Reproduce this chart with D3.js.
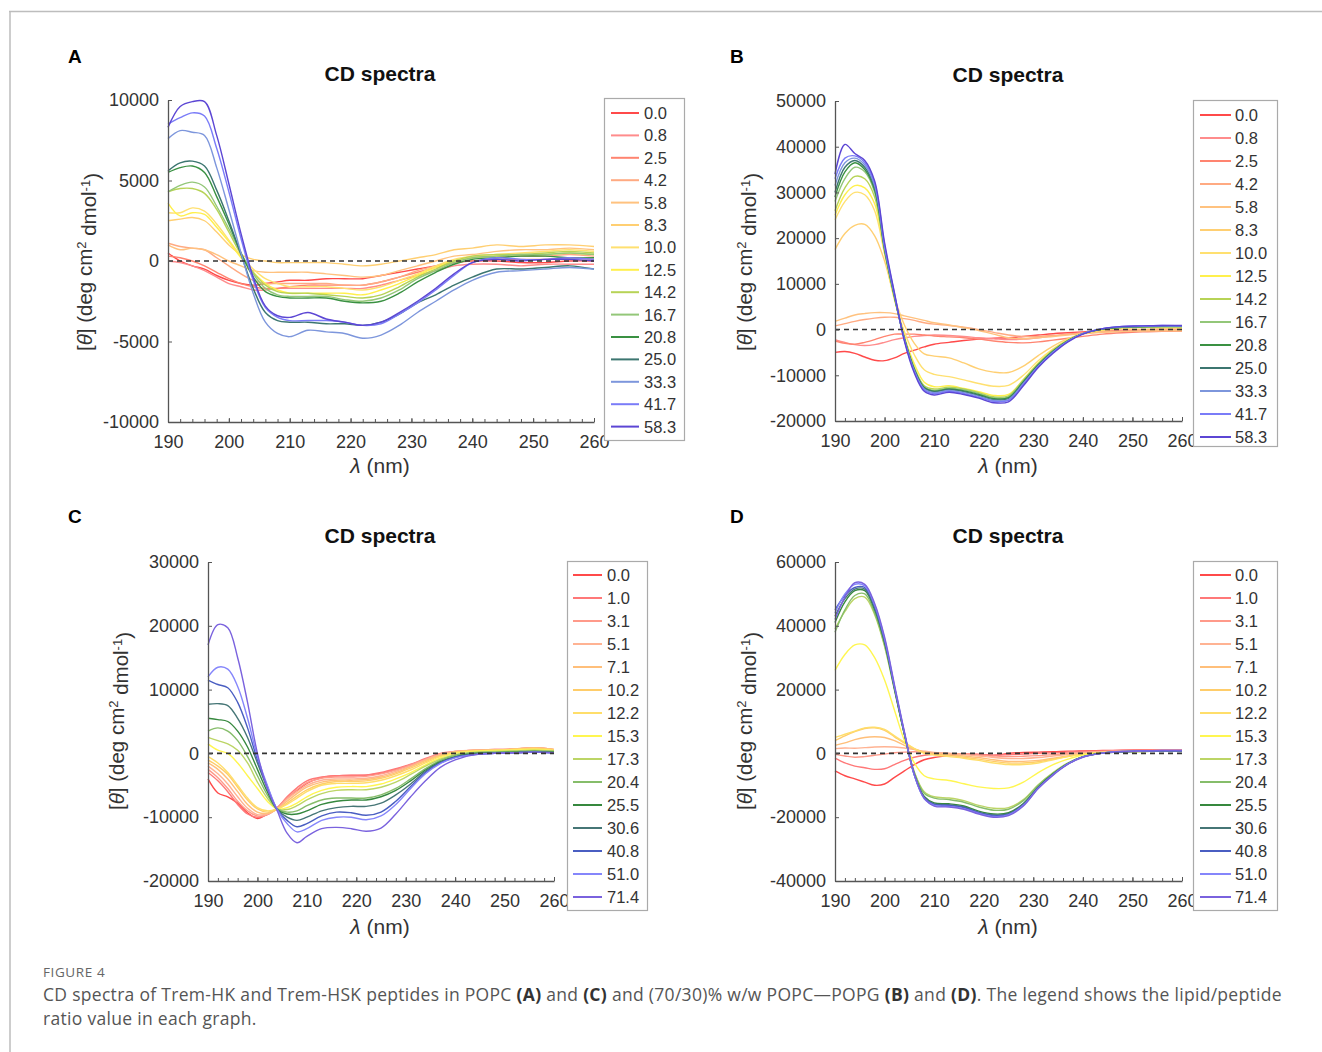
<!DOCTYPE html>
<html>
<head>
<meta charset="utf-8">
<script src="https://cdn.jsdelivr.net/npm/d3@7"></script>
<style>
  body { margin: 0; background: #fff; }
  svg { display: block; }
</style>
</head>
<body>
<svg id="fig" width="1322" height="1052"></svg>
<script>
// Wavelength grid (nm) shared by every spectrum
const wavelengths = [190,192,194,196,198,200,202,204,206,208,210,213,216,219,222,225,228,231,234,237,240,244,248,252,256,260];

// Lipid/peptide ratios shown in each legend
const ratiosAB = ["0.0","0.8","2.5","4.2","5.8","8.3","10.0","12.5","14.2","16.7","20.8","25.0","33.3","41.7","58.3"];
const ratiosCD = ["0.0","1.0","3.1","5.1","7.1","10.2","12.2","15.3","17.3","20.4","25.5","30.6","40.8","51.0","71.4"];

// Tick values
const xTicks = [190,200,210,220,230,240,250,260];
const xMinorTicks = d3.range(190, 261, 2);
const yTicksA = [-10000,-5000,0,5000,10000];
const yTicksB = [-20000,-10000,0,10000,20000,30000,40000,50000];
const yTicksC = [-20000,-10000,0,10000,20000,30000];
const yTicksD = [-40000,-20000,0,20000,40000,60000];

// Panel A: Trem-HK in POPC, mean residue ellipticity, one row per ratio
const thetaA = [
  [500,0,-300,-500,-900,-1200,-1400,-1500,-1400,-1300,-1200,-1200,-1100,-1100,-1100,-900,-700,-500,-300,-100,0,0,-100,-100,0,0],
  [0,-100,-300,-600,-1000,-1400,-1600,-1800,-1800,-1700,-1700,-1700,-1700,-1700,-1700,-1500,-1200,-900,-600,-300,-200,-200,-300,-200,-200,-200],
  [300,200,0,-300,-700,-1100,-1400,-1600,-1700,-1700,-1600,-1500,-1500,-1500,-1500,-1300,-1000,-700,-400,-100,0,100,100,100,200,100],
  [1100,900,800,700,200,-300,-800,-1200,-1400,-1400,-1400,-1400,-1400,-1500,-1500,-1300,-1000,-600,-300,0,200,300,300,300,400,300],
  [1000,700,800,700,400,0,-300,-600,-700,-700,-700,-700,-800,-900,-1000,-900,-600,-300,0,300,400,600,700,700,800,700],
  [2500,2600,2700,2500,1800,1000,400,100,0,-100,-100,-100,-100,-200,-300,-200,0,200,400,700,800,1000,900,1000,1000,900],
  [3000,3000,3300,3100,2300,1300,300,-500,-1100,-1400,-1600,-1600,-1600,-1700,-1800,-1600,-1200,-800,-300,100,300,400,500,600,700,600],
  [3600,2800,3000,2900,2100,1200,200,-700,-1400,-1800,-2000,-2000,-2000,-2000,-2100,-1800,-1400,-900,-400,0,200,300,400,400,500,400],
  [4300,4500,4500,4200,3200,1800,400,-700,-1500,-1900,-2000,-2000,-2100,-2200,-2300,-2100,-1600,-1000,-500,0,300,400,400,500,600,500],
  [4300,4700,4900,4600,3400,2000,500,-800,-1700,-2100,-2200,-2200,-2200,-2400,-2500,-2300,-1800,-1100,-600,-100,200,300,400,400,500,400],
  [5500,5800,5900,5500,4000,2300,500,-1000,-1900,-2200,-2300,-2300,-2300,-2500,-2600,-2500,-2000,-1300,-700,-200,100,200,300,300,200,200],
  [5600,6100,6200,5900,4400,2500,400,-1700,-3200,-3700,-3800,-3800,-3900,-3900,-4000,-3800,-3300,-2600,-2100,-1500,-1000,-500,-500,-400,-300,-500],
  [7600,8100,8000,7800,5800,3200,500,-2000,-3800,-4500,-4700,-4300,-4400,-4500,-4800,-4600,-4000,-3200,-2500,-1800,-1200,-700,-600,-500,-400,-500],
  [8500,8900,9200,9000,7000,4300,1400,-1200,-2900,-3500,-3700,-3700,-3700,-3800,-4000,-3900,-3300,-2600,-1800,-900,-100,200,100,100,200,100],
  [8300,9600,9900,9900,7800,4800,1700,-1000,-2800,-3400,-3500,-3200,-3600,-3800,-4000,-3800,-3200,-2500,-1700,-800,-100,100,0,100,100,0]
];

// Panel B: Trem-HK in POPC/POPG (70/30)
const thetaB = [
  [-5000,-4800,-5200,-6000,-6700,-6800,-6200,-5200,-4500,-3800,-3200,-2800,-2400,-2100,-1900,-1800,-1500,-1200,-900,-700,-500,-300,-200,-100,0,0],
  [-2200,-2800,-3300,-3500,-3300,-2800,-2200,-1800,-1500,-1300,-1200,-1300,-1500,-1800,-2000,-2200,-2100,-1800,-1400,-1000,-700,-400,-200,-100,0,0],
  [-2500,-3000,-3200,-2800,-2200,-1500,-1000,-1000,-1000,-1200,-1400,-1600,-1800,-2100,-2500,-2800,-2900,-2700,-2300,-1900,-1500,-1000,-700,-500,-400,-300],
  [800,1300,1800,2200,2500,2700,2700,2400,2000,1500,1200,900,500,0,-600,-1200,-1500,-1500,-1300,-1000,-800,-500,-400,-300,-300,-300],
  [1800,2500,3200,3500,3700,3700,3500,3000,2500,2000,1500,1000,400,-200,-1000,-1800,-2000,-1800,-1500,-1200,-900,-600,-400,-300,-200,-200],
  [17500,21000,22800,23000,20500,15000,7000,1000,-3000,-5300,-5800,-6200,-7300,-8600,-9300,-9400,-8000,-5700,-3600,-2000,-900,-200,100,100,200,200],
  [24000,28000,30000,29500,26000,16500,6500,-500,-5500,-8800,-9800,-10300,-11000,-11800,-12400,-12200,-10000,-6800,-4200,-2200,-900,0,400,500,500,500],
  [25000,29500,31500,31000,27500,17000,6800,-1500,-7500,-11500,-12500,-12300,-12900,-13600,-14400,-14200,-10900,-7300,-4400,-2300,-900,0,400,500,500,500],
  [26000,31000,33500,33000,29000,17200,7000,-1800,-8300,-12300,-13000,-12600,-13000,-13800,-14700,-14500,-11000,-7500,-4500,-2300,-900,100,500,500,600,600],
  [28000,33000,35500,34500,30000,17300,7000,-2000,-8500,-12500,-13300,-12800,-13200,-14000,-14900,-14700,-11200,-7600,-4600,-2400,-900,100,500,600,600,600],
  [29000,34500,36500,35000,30500,17500,7200,-2000,-8700,-12700,-13500,-13000,-13400,-14200,-15100,-14900,-11400,-7700,-4700,-2400,-900,100,500,600,700,700],
  [30000,35500,37000,35500,31000,17800,7300,-2000,-8800,-12800,-13600,-13100,-13600,-14400,-15300,-15100,-11600,-7800,-4800,-2500,-900,100,600,700,700,700],
  [31500,36500,37500,36000,31500,18000,7500,-2200,-9000,-13000,-13800,-13300,-13800,-14600,-15500,-15300,-11800,-8000,-4900,-2500,-900,200,600,700,800,800],
  [33000,37500,38000,36500,32000,18500,7800,-2300,-9200,-13200,-14000,-13500,-14000,-14800,-15700,-15500,-12000,-8100,-5000,-2600,-900,200,700,800,900,800],
  [34000,40500,38500,37000,32500,19000,8000,-2500,-9500,-13500,-14300,-13700,-14200,-15000,-16000,-15800,-12300,-8300,-5200,-2700,-1000,200,700,800,900,900]
];

// Panel C: Trem-HSK in POPC
const thetaC = [
  [-4000,-6200,-6800,-7800,-9300,-10200,-9500,-8600,-7000,-5800,-4700,-3800,-3500,-3400,-3400,-3100,-2500,-1800,-1000,-200,200,400,500,600,800,500],
  [-3000,-4300,-6000,-8000,-9500,-10000,-9600,-8500,-6800,-5400,-4300,-3700,-3500,-3500,-3400,-3000,-2400,-1700,-800,0,300,500,600,700,900,600],
  [-2500,-3800,-5500,-7500,-9000,-9800,-9600,-8600,-7000,-5700,-4600,-3900,-3700,-3700,-3600,-3200,-2600,-1800,-900,-100,300,500,600,700,900,600],
  [-2000,-3200,-4800,-6800,-8600,-9600,-9500,-8700,-7200,-6000,-5000,-4200,-4000,-4000,-3900,-3500,-2800,-2000,-1000,-200,300,500,500,700,900,600],
  [-1500,-2500,-4000,-6000,-8000,-9200,-9400,-8700,-7500,-6300,-5300,-4500,-4200,-4200,-4100,-3700,-3000,-2100,-1100,-300,200,500,500,700,800,600],
  [-1000,-2000,-3300,-5300,-7300,-8700,-9200,-8800,-7800,-6700,-5700,-4800,-4400,-4400,-4300,-3900,-3200,-2300,-1300,-400,200,400,500,600,800,600],
  [-500,-1500,-3000,-5000,-7000,-8500,-9000,-8700,-8000,-7000,-6000,-5000,-4700,-4700,-4600,-4200,-3500,-2600,-1500,-500,100,400,500,600,700,500],
  [1500,500,0,-1500,-3500,-5500,-7500,-8700,-8500,-7800,-6800,-5800,-5300,-5200,-5200,-4800,-4000,-3000,-1800,-700,0,300,400,500,600,400],
  [2500,2000,1500,500,-1500,-4500,-7000,-8700,-8800,-8200,-7300,-6300,-5800,-5700,-5700,-5300,-4500,-3300,-2000,-900,-200,200,300,400,500,400],
  [3500,4000,3500,2000,-500,-3500,-6500,-8700,-9200,-9000,-8200,-7300,-7000,-7000,-7000,-6500,-5500,-4000,-2400,-1100,-300,100,200,300,400,300],
  [5500,5300,5000,3500,1000,-2500,-6000,-8800,-9500,-9500,-9000,-8000,-7500,-7300,-7300,-6800,-5800,-4300,-2600,-1300,-500,0,100,200,300,200],
  [7700,7800,7500,5500,2500,-1500,-5500,-8800,-10000,-10500,-10000,-9000,-8500,-8300,-8300,-7800,-6500,-4800,-2800,-1400,-600,-100,100,100,200,100],
  [11500,10800,10300,8000,4000,-1000,-5200,-8800,-10500,-11500,-11000,-9800,-9200,-9300,-9700,-9200,-7500,-5200,-3000,-1500,-600,-200,0,100,200,100],
  [12000,13500,13200,10500,5500,-500,-5000,-8800,-11000,-12300,-11800,-10500,-10000,-10000,-10400,-9800,-8000,-5500,-3200,-1600,-700,-200,0,100,200,100],
  [17000,20200,19700,15000,8000,0,-5500,-9000,-12500,-14000,-13000,-11800,-11600,-11800,-12200,-11700,-9500,-6800,-4300,-2200,-1000,-200,0,100,200,100]
];

// Panel D: Trem-HSK in POPC/POPG (70/30)
const thetaD = [
  [-5500,-7000,-8000,-9000,-10000,-9600,-7500,-5500,-3500,-2000,-1300,-700,-300,-300,-700,0,300,400,500,700,800,900,1000,1100,1100,1100],
  [-1500,-3000,-4000,-4500,-5000,-4800,-3500,-2200,-1200,-600,-300,-200,-200,-300,-500,-400,-200,0,200,400,600,800,900,1000,1000,1000],
  [-300,-800,-1200,-1000,-600,-200,200,400,500,400,200,0,-200,-500,-800,-1000,-900,-700,-400,0,300,600,800,900,1000,1000],
  [1500,1700,1600,1800,2000,2100,2000,1700,1200,700,300,0,-400,-800,-1300,-1600,-1600,-1300,-800,-300,200,500,700,800,900,900],
  [2500,3300,4300,5000,5200,5000,4000,2500,1300,400,0,-400,-800,-1300,-2000,-2500,-2500,-2200,-1500,-800,-200,300,600,700,800,800],
  [4000,5500,6800,7800,8000,7200,5200,3200,1500,200,-300,-700,-1200,-1800,-2500,-3000,-3000,-2600,-1800,-900,-200,300,600,700,800,800],
  [5000,6000,7000,8000,8200,7500,5500,3500,1500,0,-500,-1000,-1500,-2200,-3000,-3500,-3500,-3000,-2000,-1000,-300,300,500,700,700,700],
  [26000,31000,34000,34000,30000,23000,13500,4000,-3000,-7000,-8000,-8500,-9500,-10500,-11000,-10800,-9000,-6000,-3500,-1800,-500,200,500,600,700,700],
  [39000,44500,48500,49000,43500,33500,19800,6000,-5800,-12000,-13600,-14000,-14800,-16300,-17200,-17000,-14500,-9800,-6000,-3000,-1000,100,500,600,700,700],
  [38000,45000,49500,50000,44000,34000,20000,6000,-6000,-12500,-14000,-14500,-15300,-16800,-17800,-17500,-14800,-10000,-6200,-3100,-1000,100,500,600,700,700],
  [41000,47500,51000,51000,45000,34800,20300,6000,-6500,-13500,-15500,-15800,-16500,-18100,-19000,-18600,-15700,-10500,-6400,-3200,-1100,100,500,700,700,700],
  [43000,48500,51500,51500,45500,35000,20500,6200,-6700,-13800,-15800,-16100,-16800,-18400,-19300,-18900,-15900,-10700,-6500,-3200,-1100,100,500,700,800,800],
  [45000,49500,52000,52000,46000,35500,20800,6300,-6800,-14000,-16000,-16300,-17000,-18600,-19500,-19100,-16100,-10800,-6600,-3300,-1100,100,600,700,800,800],
  [44000,50000,53000,52500,46500,36000,21000,6500,-6800,-14200,-16300,-16600,-17300,-18800,-19800,-19300,-16300,-10900,-6700,-3300,-1100,100,600,800,900,900],
  [42000,49000,53500,53000,47000,36500,21500,6800,-6500,-14000,-16500,-16800,-17500,-19000,-20000,-19500,-16500,-11000,-6800,-3400,-1200,100,600,800,900,900]
];

// Line colours, red -> purple, one per ratio
const coloursAB = ["#ff4a4a","#ff8c8c","#ff8470","#ffaa82","#ffc27f","#ffcf72","#ffe070","#fff04c","#b7d356","#93c779","#3a9142","#3c7670","#7d96dc","#7a7cf8","#5c46d4"];
const coloursCD = ["#ff4a4a","#ff7878","#ff9a8a","#ffb393","#ffbf7a","#ffcd6a","#ffde6a","#fff650","#bcd566","#86bd6a","#36883e","#467676","#4a5ec2","#8586fb","#7a62de"];

const svg = d3.select("#fig");
const FONT = "'Liberation Sans', Arial, Helvetica, sans-serif";

// figure frame
svg.append("line").attr("x1", 9).attr("x2", 1322).attr("y1", 11.5).attr("y2", 11.5)
  .attr("stroke", "#bdbdbd").attr("stroke-width", 1.5);
svg.append("line").attr("x1", 10).attr("x2", 10).attr("y1", 11).attr("y2", 1052)
  .attr("stroke", "#bdbdbd").attr("stroke-width", 1.5);

const panels = [
  { letter: "A", lx: 68, ly: 56, x0: 168, x1: 594, yTop: 100, yBot: 422, yDomain: [-10000, 10000], yTicks: yTicksA,
    title: [380, 74], xlab: [380, 466], ylab: [85, 262],
    legend: { x: 604, y: 98, w: 80, h: 342, first: 113, step: 22.4, l0: 7, l1: 35, tx: 40 },
    ratios: ratiosAB, theta: thetaA, colours: coloursAB },
  { letter: "B", lx: 730, ly: 56, x0: 835, x1: 1182, yTop: 101, yBot: 421, yDomain: [-20000, 50000], yTicks: yTicksB,
    title: [1008, 75], xlab: [1008, 466], ylab: [745, 262],
    legend: { x: 1193, y: 100, w: 84, h: 346, first: 115, step: 23, l0: 7, l1: 38, tx: 42 },
    ratios: ratiosAB, theta: thetaB, colours: coloursAB },
  { letter: "C", lx: 68, ly: 516, x0: 208, x1: 554, yTop: 562, yBot: 881, yDomain: [-20000, 30000], yTicks: yTicksC,
    title: [380, 536], xlab: [380, 927], ylab: [117, 721],
    legend: { x: 567, y: 561, w: 80, h: 349, first: 575, step: 23, l0: 6, l1: 35, tx: 40 },
    ratios: ratiosCD, theta: thetaC, colours: coloursCD },
  { letter: "D", lx: 730, ly: 516, x0: 835, x1: 1182, yTop: 562, yBot: 881, yDomain: [-40000, 60000], yTicks: yTicksD,
    title: [1008, 536], xlab: [1008, 927], ylab: [745, 721],
    legend: { x: 1193, y: 561, w: 84, h: 349, first: 575, step: 23, l0: 7, l1: 38, tx: 42 },
    ratios: ratiosCD, theta: thetaD, colours: coloursCD }
];

panels.forEach(p => {
  const g = svg.append("g");
  const x = d3.scaleLinear().domain([190, 260]).range([p.x0, p.x1]);
  const y = d3.scaleLinear().domain(p.yDomain).range([p.yBot, p.yTop]);

  // panel letter and title
  g.append("text").attr("x", p.lx).attr("y", p.ly).attr("dy", "0.35em")
    .attr("font-family", FONT).attr("font-weight", "bold").attr("font-size", 19).attr("fill", "#000")
    .text(p.letter);
  g.append("text").attr("x", p.title[0]).attr("y", p.title[1]).attr("dy", "0.35em")
    .attr("text-anchor", "middle").attr("font-family", FONT).attr("font-weight", "bold")
    .attr("font-size", 21).attr("fill", "#111").text("CD spectra");

  // spectra
  const line = d3.line()
    .x((d, i) => x(wavelengths[i]))
    .y(d => y(d))
    .curve(d3.curveCatmullRom.alpha(0.5));
  g.append("g").selectAll("path").data(p.theta).join("path")
    .attr("d", line)
    .attr("fill", "none")
    .attr("stroke", (d, i) => p.colours[i])
    .attr("stroke-width", 1.4)
    .attr("stroke-linejoin", "round");

  // zero reference
  g.append("line").attr("x1", x(190)).attr("x2", x(260)).attr("y1", y(0)).attr("y2", y(0))
    .attr("stroke", "#333").attr("stroke-width", 1.6).attr("stroke-dasharray", "5,4");

  // x axis: major ticks with labels, minor ticks every 2 nm (all pointing inward)
  const xg = g.append("g").attr("transform", `translate(0,${p.yBot})`)
    .call(d3.axisBottom(x).tickValues(xTicks).tickSizeInner(-4).tickSizeOuter(0).tickPadding(13).tickFormat(d3.format("d")));
  g.append("g").attr("transform", `translate(0,${p.yBot})`)
    .call(d3.axisBottom(x).tickValues(xMinorTicks).tickSizeInner(-3).tickSizeOuter(0).tickFormat(""))
    .call(s => s.select(".domain").remove());

  const yg = g.append("g").attr("transform", `translate(${p.x0},0)`)
    .call(d3.axisLeft(y).tickValues(p.yTicks).tickSizeInner(-4).tickSizeOuter(0).tickPadding(9).tickFormat(d => String(d)));

  [xg, yg].forEach(a => {
    a.selectAll("text").attr("font-family", FONT).attr("font-size", 18).attr("fill", "#333");
    a.select(".domain").attr("stroke", "#555").attr("stroke-width", 1.3);
  });
  g.selectAll(".tick line").attr("stroke", "#555").attr("stroke-width", 1);

  // axis titles
  const xl = g.append("text").attr("x", p.xlab[0]).attr("y", p.xlab[1]).attr("dy", "0.35em")
    .attr("text-anchor", "middle").attr("font-family", FONT).attr("font-size", 21).attr("fill", "#333");
  xl.append("tspan").attr("font-style", "italic").text("λ");
  xl.append("tspan").text(" (nm)");

  const yl = g.append("text")
    .attr("transform", `translate(${p.ylab[0]},${p.ylab[1]}) rotate(-90)`)
    .attr("dy", "0.35em").attr("text-anchor", "middle")
    .attr("font-family", FONT).attr("font-size", 20.5).attr("fill", "#333");
  yl.append("tspan").text("[");
  yl.append("tspan").attr("font-style", "italic").text("θ");
  yl.append("tspan").text("] (deg cm");
  yl.append("tspan").attr("font-size", 13).attr("dy", "-0.45em").text("2");
  yl.append("tspan").attr("dy", "0.45em").text(" dmol");
  yl.append("tspan").attr("font-size", 13).attr("dy", "-0.45em").text("-1");
  yl.append("tspan").attr("dy", "0.45em").text(")");

  // legend
  const L = p.legend;
  const lg = g.append("g");
  lg.append("rect").attr("x", L.x + 0.5).attr("y", L.y + 0.5).attr("width", L.w).attr("height", L.h)
    .attr("fill", "#fff").attr("stroke", "#aaa").attr("stroke-width", 1.2);
  const item = lg.selectAll("g.item").data(p.ratios).join("g").attr("class", "item")
    .attr("transform", (d, i) => `translate(${L.x},${L.first + i * L.step})`);
  item.append("line").attr("x1", L.l0).attr("x2", L.l1)
    .attr("stroke", (d, i) => p.colours[i]).attr("stroke-width", 2);
  item.append("text").attr("x", L.tx).attr("dy", "0.36em")
    .attr("font-family", FONT).attr("font-size", 16.5).attr("fill", "#333").text(d => d);
});

// caption
const CAP = "'Open Sans', 'Noto Sans', sans-serif";
svg.append("text").attr("x", 43).attr("y", 977)
  .attr("font-family", CAP).attr("font-size", 13.5).attr("fill", "#666").attr("letter-spacing", 0.6)
  .text("FIGURE 4");

const captionLines = [
  [["CD spectra of Trem-HK and Trem-HSK peptides in POPC ", false], ["(A)", true], [" and ", false], ["(C)", true],
   [" and (70/30)% w/w POPC—POPG ", false], ["(B)", true], [" and ", false], ["(D)", true],
   [". The legend shows the lipid/peptide", false]],
  [["ratio value in each graph.", false]]
];
captionLines.forEach((parts, li) => {
  const t = svg.append("text").attr("x", 43).attr("y", 1001 + li * 24)
    .attr("font-family", CAP).attr("font-size", 17.5).attr("letter-spacing", 0.3).attr("fill", "#555");
  parts.forEach(([s, b]) => {
    t.append("tspan").attr("font-weight", b ? "bold" : null).attr("fill", b ? "#333" : null).text(s);
  });
});
</script>
</body>
</html>
